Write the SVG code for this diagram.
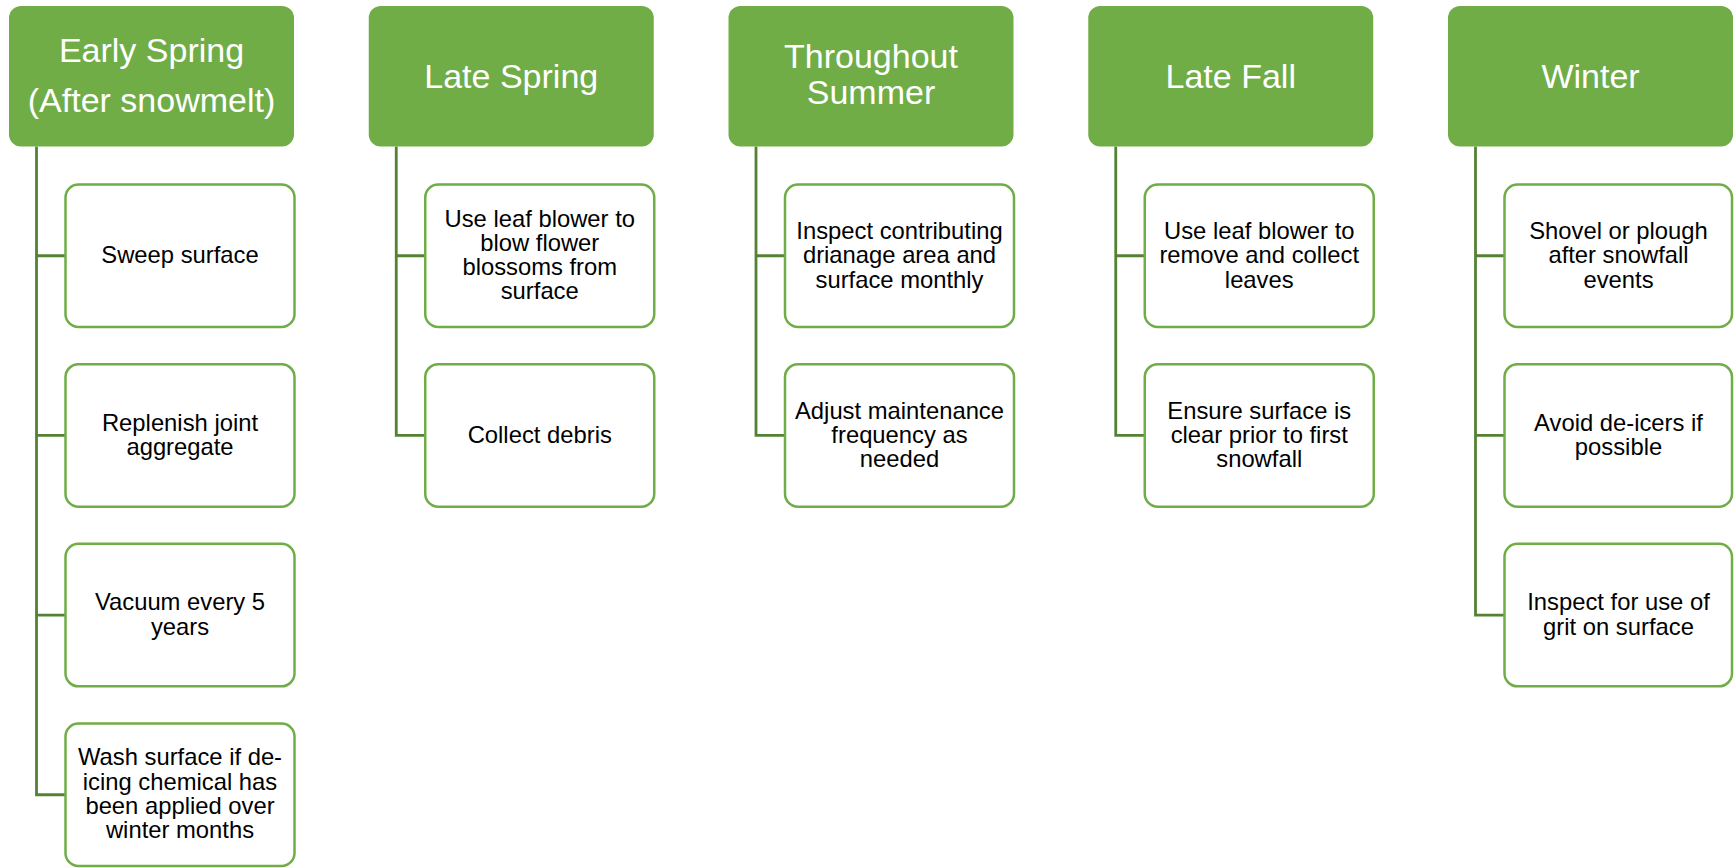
<svg xmlns="http://www.w3.org/2000/svg" width="1734" height="868" viewBox="0 0 1734 868">
<style>
.hdr{fill:#70AD47;}
.ht{fill:#FFFFFF;font-family:"Liberation Sans",Arial,sans-serif;font-size:34px;text-anchor:middle;}
.box{fill:#FFFFFF;stroke:#70AD47;stroke-width:2.5;}
.bt{fill:#000000;font-family:"Liberation Sans",Arial,sans-serif;font-size:23.8px;text-anchor:middle;}
.con{fill:none;stroke:#548235;stroke-width:2.8;}
</style>
<rect width="1734" height="868" fill="#FFFFFF"/>
<g id="connectors">
<path class="con" d="M36.5 146.5 V794.75 H65.5 M36.5 255.75 H65.5 M36.5 435.45 H65.5 M36.5 615.05 H65.5"/>
<path class="con" d="M396.25 146.5 V435.45 H425.25 M396.25 255.75 H425.25"/>
<path class="con" d="M756 146.5 V435.45 H785 M756 255.75 H785"/>
<path class="con" d="M1115.75 146.5 V435.45 H1144.75 M1115.75 255.75 H1144.75"/>
<path class="con" d="M1475.5 146.5 V615.05 H1504.5 M1475.5 255.75 H1504.5 M1475.5 435.45 H1504.5"/>
</g>
<g id="h1"><rect class="hdr" x="9" y="6" width="285" height="140.5" rx="12"/><text class="ht" x="151.5" y="61.7">Early Spring</text><text class="ht" x="151.5" y="111.7">(After snowmelt)</text></g>
<g id="h2"><rect class="hdr" x="368.75" y="6" width="285" height="140.5" rx="12"/><text class="ht" x="511.25" y="87.5">Late Spring</text></g>
<g id="h3"><rect class="hdr" x="728.5" y="6" width="285" height="140.5" rx="12"/><text class="ht" x="871" y="68.3">Throughout</text><text class="ht" x="871" y="104">Summer</text></g>
<g id="h4"><rect class="hdr" x="1088.25" y="6" width="285" height="140.5" rx="12"/><text class="ht" x="1230.75" y="87.5">Late Fall</text></g>
<g id="h5"><rect class="hdr" x="1448" y="6" width="285" height="140.5" rx="12"/><text class="ht" x="1590.5" y="87.5">Winter</text></g>

<g id="c1a"><rect class="box" x="65.5" y="184.5" width="229" height="142.5" rx="13"/><text class="bt" x="180" y="263">Sweep surface</text></g>
<g id="c1b"><rect class="box" x="65.5" y="364.2" width="229" height="142.5" rx="13"/><text class="bt" x="180" y="430.6">Replenish joint</text><text class="bt" x="180" y="454.9">aggregate</text></g>
<g id="c1c"><rect class="box" x="65.5" y="543.8" width="229" height="142.5" rx="13"/><text class="bt" x="180" y="610.2">Vacuum every 5</text><text class="bt" x="180" y="634.5">years</text></g>
<g id="c1d"><rect class="box" x="65.5" y="723.5" width="229" height="142.5" rx="13"/><text class="bt" x="180" y="765.3">Wash surface if de-</text><text class="bt" x="180" y="789.6">icing chemical has</text><text class="bt" x="180" y="813.9">been applied over</text><text class="bt" x="180" y="838.2">winter months</text></g>

<g id="c2a"><rect class="box" x="425.25" y="184.5" width="229" height="142.5" rx="13"/><text class="bt" x="539.75" y="226.5">Use leaf blower to</text><text class="bt" x="539.75" y="250.8">blow flower</text><text class="bt" x="539.75" y="275.1">blossoms from</text><text class="bt" x="539.75" y="299.4">surface</text></g>
<g id="c2b"><rect class="box" x="425.25" y="364.2" width="229" height="142.5" rx="13"/><text class="bt" x="539.75" y="442.7">Collect debris</text></g>

<g id="c3a"><rect class="box" x="785" y="184.5" width="229" height="142.5" rx="13"/><text class="bt" x="899.5" y="239">Inspect contributing</text><text class="bt" x="899.5" y="263.3">drianage area and</text><text class="bt" x="899.5" y="287.6">surface monthly</text></g>
<g id="c3b"><rect class="box" x="785" y="364.2" width="229" height="142.5" rx="13"/><text class="bt" x="899.5" y="418.5">Adjust maintenance</text><text class="bt" x="899.5" y="442.8">frequency as</text><text class="bt" x="899.5" y="467.1">needed</text></g>

<g id="c4a"><rect class="box" x="1144.75" y="184.5" width="229" height="142.5" rx="13"/><text class="bt" x="1259.25" y="239">Use leaf blower to</text><text class="bt" x="1259.25" y="263.3">remove and collect</text><text class="bt" x="1259.25" y="287.6">leaves</text></g>
<g id="c4b"><rect class="box" x="1144.75" y="364.2" width="229" height="142.5" rx="13"/><text class="bt" x="1259.25" y="418.5">Ensure surface is</text><text class="bt" x="1259.25" y="442.8">clear prior to first</text><text class="bt" x="1259.25" y="467.1">snowfall</text></g>

<g id="c5a"><rect class="box" x="1504.5" y="184.5" width="227.5" height="142.5" rx="13"/><text class="bt" x="1618.5" y="239">Shovel or plough</text><text class="bt" x="1618.5" y="263.3">after snowfall</text><text class="bt" x="1618.5" y="287.6">events</text></g>
<g id="c5b"><rect class="box" x="1504.5" y="364.2" width="227.5" height="142.5" rx="13"/><text class="bt" x="1618.5" y="430.6">Avoid de-icers if</text><text class="bt" x="1618.5" y="454.9">possible</text></g>
<g id="c5c"><rect class="box" x="1504.5" y="543.8" width="227.5" height="142.5" rx="13"/><text class="bt" x="1618.5" y="610.2">Inspect for use of</text><text class="bt" x="1618.5" y="634.5">grit on surface</text></g>
</svg>
